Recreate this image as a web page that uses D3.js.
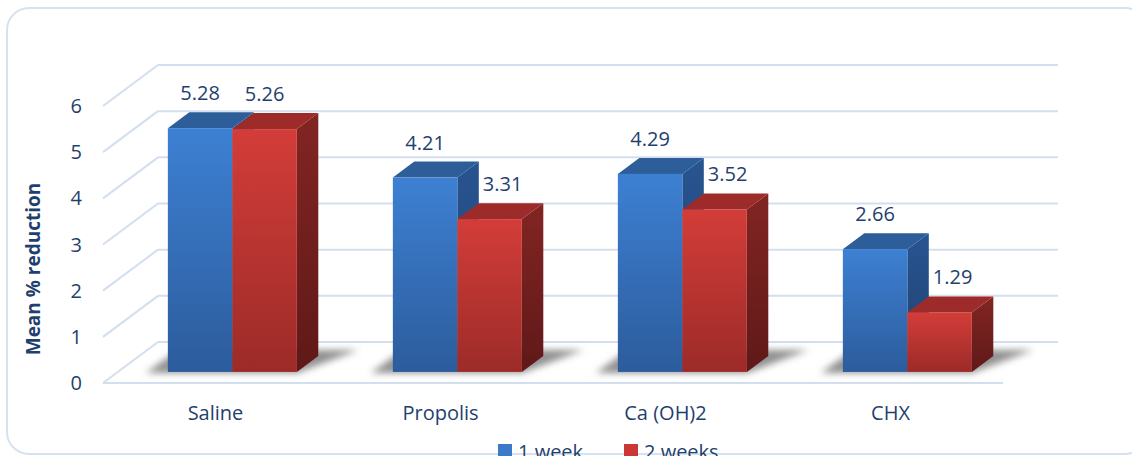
<!DOCTYPE html>
<html>
<head>
<meta charset="utf-8">
<script src="https://cdn.jsdelivr.net/npm/d3@7"></script>
<style>
  html, body { margin: 0; padding: 0; background: #fff; }
  svg { display: block; font-family: "Open Sans", "Noto Sans", sans-serif; }
</style>
</head>
<body>
<svg id="chart" width="1132" height="456"></svg>
<script>
// Treatments on the x axis
const categories = ["Saline", "Propolis", "Ca (OH)2", "CHX"];
// Mean % reduction per treatment
const week1 = [5.28, 4.21, 4.29, 2.66];
const week2 = [5.26, 3.31, 3.52, 1.29];
const seriesNames = ["1 week", "2 weeks"];
const yTicks = [0, 1, 2, 3, 4, 5, 6];
const yTitle = "Mean % reduction";

const seriesValues = [week1, week2];

const svg = d3.select("#chart");
const textColor = "#1F3F6E";
const gridColor = "#D3DFEF";
const fontSize = 20;

// 3D box: floor front edge, depth vector of the floor
const floorFrontY = 383;
const floorLeft = 103, floorRight = 1003;
const depth = { dx: 55, dy: -41 };
// bars sit between these fractions of the floor depth
const barFront = 0.27, barBack = 0.66;

const unit = d3.scaleLinear().domain([0, 6]).range([0, 277]); // height in px

const xBand = d3.scaleBand().domain(categories).range([floorLeft, floorRight]);
const groupW = 129;
const xInner = d3.scaleBand().domain(d3.range(seriesNames.length)).range([0, groupW]);

const defs = svg.append("defs");
function grad(id, c1, c2) {
  const g = defs.append("linearGradient").attr("id", id)
    .attr("x1", 0).attr("y1", 0).attr("x2", 0).attr("y2", 1);
  g.append("stop").attr("offset", "0%").attr("stop-color", c1);
  g.append("stop").attr("offset", "100%").attr("stop-color", c2);
}
grad("blueFront", "#3D80D3", "#2C5C9C");
grad("blueSide", "#285490", "#1F4273");
grad("redFront", "#D33D39", "#9C2B28");
grad("redSide", "#822523", "#5F1918");
const faces = [
  { front: "url(#blueFront)", top: "#2D5E99", side: "url(#blueSide)", swatch: "#3B7AC8" },
  { front: "url(#redFront)", top: "#9D2B29", side: "url(#redSide)", swatch: "#C93835" }
];
defs.append("filter").attr("id", "soft").attr("x", "-30%").attr("y", "-100%").attr("width", "160%").attr("height", "300%")
  .append("feGaussianBlur").attr("stdDeviation", 3.5);

// chart frame
svg.append("rect").attr("x", 7).attr("y", 8).attr("width", 1140).attr("height", 446)
  .attr("rx", 22).attr("fill", "#fff").attr("stroke", "#D6E2F2").attr("stroke-width", 2);

// back wall gridlines and left wall diagonals
const grid = svg.append("g").attr("stroke", gridColor).attr("stroke-width", 2).attr("fill", "none");
yTicks.forEach(t => {
  const yf = floorFrontY - unit(t);
  const yb = yf + depth.dy;
  grid.append("line").attr("x1", floorLeft).attr("y1", yf).attr("x2", floorLeft + depth.dx).attr("y2", yb);
  grid.append("line").attr("x1", floorLeft + depth.dx).attr("y1", yb).attr("x2", floorRight + depth.dx).attr("y2", yb);
});
grid.append("line").attr("x1", floorLeft).attr("y1", floorFrontY).attr("x2", floorRight).attr("y2", floorFrontY);

// y tick labels
svg.append("g").selectAll("text").data(yTicks).join("text")
  .attr("x", 82).attr("y", d => floorFrontY - unit(d))
  .attr("dy", "0.35em").attr("text-anchor", "end")
  .attr("font-size", fontSize).attr("fill", textColor).text(d => d);

// y title
svg.append("text")
  .attr("transform", `translate(40,269) rotate(-90)`)
  .attr("text-anchor", "middle").attr("font-size", 19).attr("font-weight", "bold")
  .attr("fill", textColor).text(yTitle);

// category labels on the floor front edge
svg.append("g").selectAll("text").data(categories).join("text")
  .attr("x", d => xBand(d) + xBand.bandwidth() / 2).attr("y", 420)
  .attr("text-anchor", "middle").attr("font-size", fontSize).attr("fill", textColor).text(d => d);

// bar geometry
const fx = depth.dx * barFront, fy = depth.dy * barFront;
const bdx = depth.dx * (barBack - barFront), bdy = depth.dy * (barBack - barFront);
const baseY = floorFrontY + fy;

const bars = [];
categories.forEach((c, ci) => {
  const gx = xBand(c) + (xBand.bandwidth() - groupW) / 2 + fx + 2;
  seriesValues.forEach((vals, si) => {
    const x0 = gx + xInner(si), x1 = x0 + xInner.bandwidth();
    bars.push({ c, ci, si, v: vals[ci], x0, x1, top: baseY - unit(vals[ci]) });
  });
});

// floor shadows under each group
const shadows = svg.append("g").attr("filter", "url(#soft)");
categories.forEach(c => {
  const grp = bars.filter(b => b.c === c);
  const l = grp[0].x0, r = grp[grp.length - 1].x1;
  shadows.append("path")
    .attr("d", `M${l - 22},${baseY + 1} L${r},${baseY + 1} L${r + bdx + 40},${baseY + bdy - 6} L${l + 10},${baseY + bdy - 6} Z`)
    .attr("fill", "#6b6b6b").attr("opacity", 0.75);
});

const barG = svg.append("g");
bars.forEach(b => {
  const f = faces[b.si];
  const g = barG.append("g");
  // side face
  g.append("path")
    .attr("d", `M${b.x1},${b.top} L${b.x1 + bdx},${b.top + bdy} L${b.x1 + bdx},${baseY + bdy} L${b.x1},${baseY} Z`)
    .attr("fill", f.side);
  // top face
  g.append("path")
    .attr("d", `M${b.x0},${b.top} L${b.x0 + bdx},${b.top + bdy} L${b.x1 + bdx},${b.top + bdy} L${b.x1},${b.top} Z`)
    .attr("fill", f.top);
  // front face
  g.append("rect").attr("x", b.x0).attr("y", b.top).attr("width", b.x1 - b.x0).attr("height", baseY - b.top)
    .attr("fill", f.front);
});

// value labels
const labels = svg.append("g").attr("font-size", fontSize).attr("fill", textColor);
bars.forEach(b => {
  const cx = (b.x0 + b.x1) / 2;
  const y = b.top + bdy - 12;
  const t = labels.append("text").attr("y", y).text(b.v.toFixed(2));
  const prev = bars.find(p => p.ci === b.ci && p.si === b.si - 1);
  if (prev && prev.v - b.v > 0.3) {
    t.attr("x", prev.x1 + bdx + 4).attr("text-anchor", "start");
  } else {
    t.attr("x", cx).attr("text-anchor", "middle");
  }
});

// legend (sits on the lower frame edge)
const legend = svg.append("g");
const legendX = [498, 624];
seriesNames.forEach((n, i) => {
  legend.append("rect").attr("x", legendX[i]).attr("y", 444).attr("width", 14).attr("height", 14)
    .attr("fill", faces[i].swatch);
  legend.append("text").attr("x", legendX[i] + 20).attr("y", 459)
    .attr("font-size", fontSize).attr("fill", textColor).text(n);
});
</script>
</body>
</html>
